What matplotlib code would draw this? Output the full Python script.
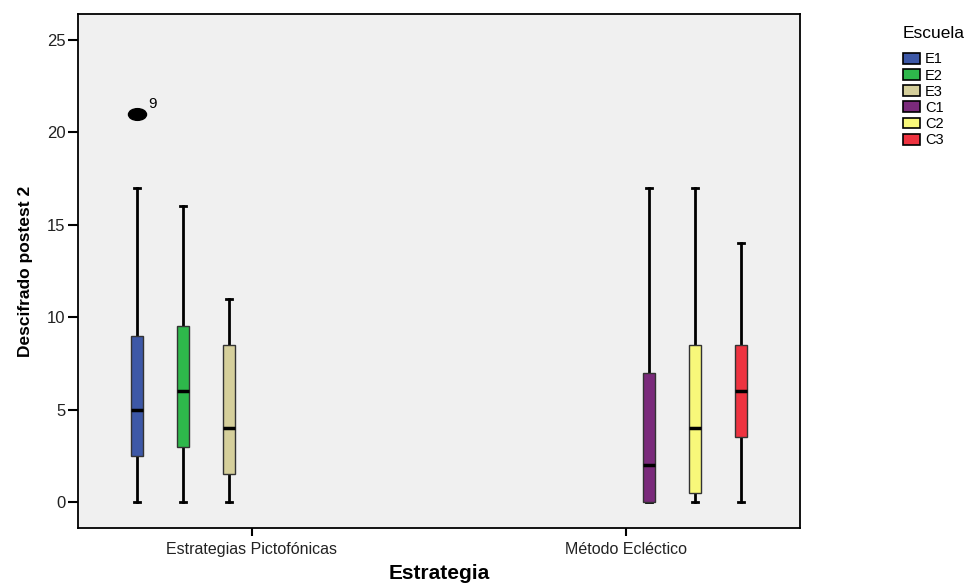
import matplotlib
matplotlib.use('Agg')
import matplotlib.pyplot as plt
from matplotlib.patches import Patch
from matplotlib.path import Path
from matplotlib.transforms import Affine2D

# datos (SPSS, diagrama de caja agrupado)
categorias = ['Estrategias Pictofónicas', 'Método Ecléctico']
escuelas = ['E1', 'E2', 'E3', 'C1', 'C2', 'C3']
grupo = [0, 0, 0, 1, 1, 1]          # categoria de cada escuela
casilla = [0, 1, 2, 3, 4, 5]        # posicion dentro del grupo (6 casillas)
colores = ['#3D58A7', '#2EB84B', '#D5CF9B', '#7A2A7B', '#F8F87A', '#EE3340']

minimos = [0, 0, 0, 0, 0, 0]
q1 = [2.5, 3, 1.5, 0, 0.5, 3.5]
medianas = [5, 6, 4, 2, 4, 6]
q3 = [9, 9.5, 8.5, 7, 8.5, 8.5]
maximos = [17, 16, 11, 17, 17, 14]
atipicos = [[21], [], [], [], [], []]
etiquetas_atipicos = [['9'], [], [], [], [], []]

yticks = [0, 5, 10, 15, 20, 25]

plt.rcParams['font.family'] = ['Liberation Sans', 'DejaVu Sans']

fig = plt.figure(figsize=(9.72, 5.83), dpi=100)
ax = fig.add_axes([0.0802, 0.0943, 0.743, 0.882])
ax.set_facecolor('#F0F0F0')

ancho_casilla = 0.123
pos = [g + (c - 2.5) * ancho_casilla for g, c in zip(grupo, casilla)]

stats = []
for i in range(len(escuelas)):
    stats.append(dict(med=medianas[i], q1=q1[i], q3=q3[i], whislo=minimos[i],
                      whishi=maximos[i], fliers=atipicos[i], label=escuelas[i]))

elipse = Path.unit_circle().transformed(Affine2D().scale(1, 0.65))
bp = ax.bxp(stats, positions=pos, widths=0.033, capwidths=0.015,
            patch_artist=True, manage_ticks=False,
            boxprops=dict(edgecolor='#333333', linewidth=1.0),
            whiskerprops=dict(color='black', linewidth=2.0),
            capprops=dict(color='black', linewidth=2.0),
            medianprops=dict(color='black', linewidth=2.5),
            flierprops=dict(marker=elipse, markersize=13, markerfacecolor='black',
                            markeredgecolor='black'))
for caja, col in zip(bp['boxes'], colores):
    caja.set_facecolor(col)
    caja.set_zorder(3)
for m in bp['medians']:
    m.set_zorder(4)

for i in range(len(escuelas)):
    for v, t in zip(atipicos[i], etiquetas_atipicos[i]):
        ax.annotate(t, (pos[i], v), xytext=(8, 4), textcoords='offset points',
                    fontsize=11)

ax.set_xlim(-0.465, 1.465)
ax.set_ylim(-1.4, 26.4)
ax.set_yticks(yticks)
ax.set_xticks(range(len(categorias)))
ax.set_xticklabels(categorias)
ax.tick_params(axis='y', length=7, width=1.5, labelsize=12, pad=2, labelcolor='#222222')
ax.tick_params(axis='x', length=6, width=1.5, labelsize=11.5, pad=4, labelcolor='#222222')
for s in ax.spines.values():
    s.set_linewidth(1.3)

ax.set_xlabel('Estrategia', fontsize=15, fontweight='bold', labelpad=5)
ax.set_ylabel('Descifrado postest 2', fontsize=12.5, fontweight='bold', labelpad=10)

handles = [Patch(facecolor=c, edgecolor='black', linewidth=1.2) for c in colores]
leg = fig.legend(handles, escuelas, title='Escuela', loc='upper left',
                 bbox_to_anchor=(0.929, 0.955), frameon=False, fontsize=10.5,
                 title_fontsize=12.5, handlelength=1.2, handleheight=0.75,
                 handletextpad=0.3, labelspacing=0.15, alignment='left',
                 borderaxespad=0, borderpad=0)
leg._legend_box.sep = 8

fig.savefig('out.png', dpi=100)
